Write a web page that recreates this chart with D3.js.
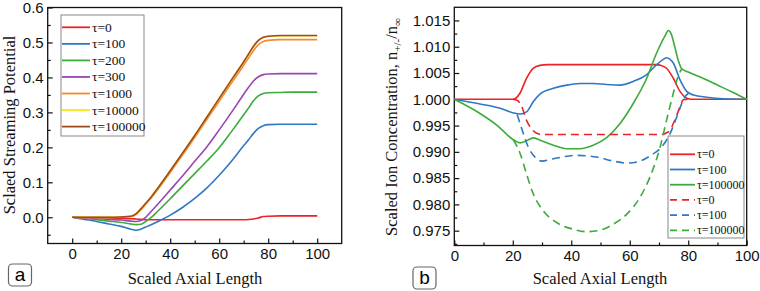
<!DOCTYPE html>
<html>
<head>
<meta charset="utf-8">
<script src="https://cdn.jsdelivr.net/npm/d3@7"></script>
<style>
  body { margin: 0; background: #fff; }
  .tick text { font-family: "Liberation Sans", Arial, sans-serif; font-size: 15px; fill: #111; }
  .tick line { stroke: #111; stroke-width: 1.2; }
  .title { font-family: "Liberation Serif", "Times New Roman", serif; font-size: 16.5px; fill: #111; }
  .legend text { font-family: "Liberation Serif", "Times New Roman", serif; fill: #111; }
</style>
</head>
<body>
<div id="chart"></div>
<script>
// ---- Panel a: scaled streaming potential ----
const xA = [0, 5, 10, 15, 20, 24, 26, 28, 30, 32, 35, 40, 45, 50, 55, 60, 65, 70, 72, 74, 76, 78, 80, 85, 90, 100]
const tau0A      = [0, -0.001, -0.001, -0.002, -0.003, -0.004, -0.005, -0.006, -0.007, -0.007, -0.007, -0.007, -0.007, -0.007, -0.007, -0.007, -0.007, -0.007, -0.0065, -0.005, -0.002, 0.002, 0.003, 0.004, 0.004, 0.004]
const tau100A    = [0, -0.006, -0.012, -0.019, -0.026, -0.034, -0.037, -0.034, -0.028, -0.022, -0.012, 0.006, 0.028, 0.054, 0.084, 0.12, 0.16, 0.205, 0.222, 0.24, 0.254, 0.262, 0.265, 0.266, 0.266, 0.266]
const tau200A    = [0, -0.003, -0.007, -0.011, -0.015, -0.019, -0.021, -0.02, -0.012, -0.002, 0.018, 0.053, 0.089, 0.125, 0.161, 0.199, 0.245, 0.293, 0.313, 0.333, 0.347, 0.354, 0.356, 0.357, 0.358, 0.358]
const tau300A    = [0, -0.002, -0.004, -0.006, -0.008, -0.011, -0.012, -0.009, 0, 0.015, 0.038, 0.078, 0.118, 0.16, 0.202, 0.25, 0.3, 0.352, 0.372, 0.39, 0.402, 0.408, 0.41, 0.411, 0.411, 0.411]
const tau1000A   = [0, -0.001, -0.001, -0.001, 0, 0.002, 0.008, 0.021, 0.037, 0.053, 0.08, 0.128, 0.178, 0.228, 0.28, 0.332, 0.384, 0.435, 0.456, 0.477, 0.494, 0.503, 0.506, 0.508, 0.508, 0.508]
const tau10000A  = [0, 0, 0, 0, 0.001, 0.003, 0.01, 0.024, 0.04, 0.056, 0.084, 0.133, 0.183, 0.234, 0.287, 0.339, 0.392, 0.444, 0.466, 0.488, 0.505, 0.514, 0.517, 0.519, 0.519, 0.519]
const tau100000A = [0, 0, 0, 0, 0.001, 0.003, 0.01, 0.024, 0.04, 0.056, 0.084, 0.133, 0.183, 0.234, 0.287, 0.34, 0.393, 0.445, 0.467, 0.489, 0.506, 0.515, 0.518, 0.52, 0.52, 0.52]
const labelsA = ['τ=0', 'τ=100', 'τ=200', 'τ=300', 'τ=1000', 'τ=10000', 'τ=100000']
const colorsA = ['#ec2227', '#2f78c4', '#3bab3c', '#9a45b3', '#f7892a', '#f6e51a', '#9e4a1f']

// ---- Panel b: scaled ion concentration [x, y] ----
const cation0 = [[0, 1], [18, 1], [20, 1], [21, 1.0002], [22.5, 1.0012], [24.7, 1.004], [27, 1.0059], [29.3, 1.00645], [32, 1.0066], [50, 1.0066], [69, 1.0066], [70.4, 1.0065], [72.6, 1.0059], [74.9, 1.004], [77.2, 1.0015], [79.5, 1.0002], [81, 1], [100, 1]]
const cation100 = [[0, 1], [8.8, 0.9991], [15.6, 0.9983], [20.2, 0.9974], [22.5, 0.9972], [24.7, 0.9976], [27, 0.99955], [29.3, 1.001], [33.9, 1.0021], [38.4, 1.0027], [43, 1.003], [47.5, 1.003], [52.1, 1.0028], [56.7, 1.0027], [61.2, 1.0034], [65.8, 1.0047], [69.2, 1.0066], [71.5, 1.0076], [72.6, 1.0079], [73.8, 1.0076], [74.9, 1.0069], [77.2, 1.0037], [79.5, 1.0015], [81.8, 1.0008], [86.3, 1.0004], [92, 1.0001], [100, 1]]
const cation100000 = [[0, 1], [8.8, 0.9973], [14.5, 0.9951], [20.2, 0.9923], [22.5, 0.9917], [24.7, 0.9921], [27, 0.99265], [29.3, 0.9922], [33.9, 0.99125], [38.4, 0.9906], [43, 0.9906], [47.5, 0.99125], [52.1, 0.9927], [56.7, 0.9954], [61.2, 0.9992], [65.8, 1.004], [69.2, 1.0088], [72.1, 1.0121], [73.2, 1.0131], [74.2, 1.0124], [75.4, 1.01], [76.6, 1.0074], [77.8, 1.0058], [80, 1.0052], [85, 1.004], [90, 1.0027], [95, 1.0014], [100, 1]]
const anion0 = [[20, 1], [21.5, 0.9998], [23, 0.9987], [24.7, 0.996], [26.4, 0.9944], [28, 0.9936], [30.4, 0.9933], [50, 0.9933], [71, 0.9933], [72.5, 0.9936], [73.8, 0.9941], [74.9, 0.9954], [76.1, 0.997], [77.2, 0.9986], [78.3, 0.9999], [80, 1]]
const anion100 = [[21.5, 0.9971], [23.6, 0.9935], [25.3, 0.9909], [27.6, 0.989], [29.9, 0.98824], [33.9, 0.98869], [41.8, 0.98933], [48.7, 0.98901], [54.4, 0.98824], [59, 0.98786], [63.5, 0.98824], [68.1, 0.98965], [70.4, 0.9906], [73.8, 0.99348], [76.1, 0.99668], [77.8, 0.99923], [78.9, 1.0005], [80, 1.0011]]
const anion100000 = [[20.2, 0.9923], [22.5, 0.9897], [24.7, 0.9858], [27, 0.982], [30.4, 0.9788], [35, 0.97655], [40.7, 0.97527], [45.3, 0.9748], [49.8, 0.97508], [54.4, 0.97623], [59, 0.97815], [63.5, 0.98134], [66.9, 0.98518], [70.4, 0.99093], [72.6, 0.99604], [74.9, 1.00115], [76.6, 1.0045], [77.8, 1.0058]]
const labelsB = ['τ=0', 'τ=100', 'τ=100000', 'τ=0', 'τ=100', 'τ=100000']
const colorsB = ['#ec2227', '#2f78c4', '#3bab3c']

const xTicks = [0, 20, 40, 60, 80, 100]
const xMinor = [10, 30, 50, 70, 90]

function draw() {
  const svg = d3.select('#chart')
    .append('svg')
    .attr('width', 760)
    .attr('height', 291)

  // draws the closed frame, inward major/minor ticks
  function frame(g, x, y, yMajor, yMinor, yFmt) {
    const [x0, x1] = x.range()
    const [y0, y1] = y.range()

    g.append('g')
      .attr('transform', `translate(0,${y0})`)
      .call(d3.axisBottom(x).tickValues(xTicks).tickSize(-5).tickPadding(5).tickFormat(d3.format('d')))
      .call(a => a.select('.domain').remove())
    g.append('g')
      .attr('transform', `translate(0,${y0})`)
      .call(d3.axisBottom(x).tickValues(xMinor).tickSize(-3).tickFormat(''))
      .call(a => a.select('.domain').remove())
    g.append('g')
      .attr('transform', `translate(${x0},0)`)
      .call(d3.axisLeft(y).tickValues(yMajor).tickSize(-5).tickPadding(4).tickFormat(d3.format(yFmt)))
      .call(a => a.select('.domain').remove())
    g.append('g')
      .attr('transform', `translate(${x0},0)`)
      .call(d3.axisLeft(y).tickValues(yMinor).tickSize(-3).tickFormat(''))
      .call(a => a.select('.domain').remove())

    g.append('rect')
      .attr('x', x0).attr('y', y1)
      .attr('width', x1 - x0).attr('height', y0 - y1)
      .attr('fill', 'none').attr('stroke', '#111').attr('stroke-width', 1.3)
  }

  function tag(g, x, y, letter) {
    g.append('rect')
      .attr('x', x).attr('y', y).attr('width', 23).attr('height', 22)
      .attr('rx', 4).attr('fill', '#fff').attr('stroke', '#666').attr('stroke-width', 1.2)
    g.append('text')
      .attr('x', x + 11.5).attr('y', y + 17)
      .attr('text-anchor', 'middle')
      .style('font-family', '"Liberation Sans", Arial, sans-serif')
      .style('font-size', '19px')
      .text(letter)
  }

  // ---------------- Panel a ----------------
  const ga = svg.append('g')
  const xa = d3.scaleLinear().domain([-10, 110]).range([47.7, 341.7])
  const ya = d3.scaleLinear().domain([-0.075, 0.6]).range([243.5, 7.5])

  frame(ga, xa, ya, d3.range(0, 0.61, 0.1), d3.range(-0.05, 0.56, 0.1), '.1f')

  const seriesA = [tau0A, tau100A, tau200A, tau300A, tau1000A, tau10000A, tau100000A]
  const lineA = d3.line()
    .x((d, i) => xa(xA[i]))
    .y(d => ya(d))
    .curve(d3.curveMonotoneX)

  ga.selectAll('.series')
    .data(seriesA)
    .join('path')
    .attr('d', lineA)
    .attr('fill', 'none')
    .attr('stroke', (d, i) => colorsA[i])
    .attr('stroke-width', 1.6)

  const legA = ga.append('g').classed('legend', true)
  legA.append('rect')
    .attr('x', 61).attr('y', 15).attr('width', 83).attr('height', 121)
    .attr('fill', '#fff').attr('stroke', '#888').attr('stroke-width', 1)
  labelsA.forEach((lab, i) => {
    const yy = 27.3 + i * 16.55
    legA.append('line')
      .attr('x1', 62).attr('x2', 90).attr('y1', yy).attr('y2', yy)
      .attr('stroke', colorsA[i]).attr('stroke-width', 1.8)
    legA.append('text')
      .attr('x', 92).attr('y', yy + 4.5)
      .style('font-size', '13.5px')
      .text(lab)
  })

  ga.append('text').classed('title', true)
    .attr('transform', 'translate(15,125) rotate(-90)')
    .attr('text-anchor', 'middle')
    .text('Sclaed Streaming Potential')
  ga.append('text').classed('title', true)
    .attr('x', 195).attr('y', 284)
    .attr('text-anchor', 'middle')
    .text('Scaled Axial Length')

  tag(ga, 8.5, 264, 'a')

  // ---------------- Panel b ----------------
  const gb = svg.append('g')
  const xb = d3.scaleLinear().domain([0, 100]).range([454.3, 746.7])
  const yb = d3.scaleLinear().domain([0.97218, 1.0175]).range([245.5, 7.3])

  frame(gb, xb, yb, d3.range(0.975, 1.0151, 0.005), d3.range(0.9725, 1.0151, 0.005), '.3f')

  const lineB = d3.line()
    .x(d => xb(d[0]))
    .y(d => yb(d[1]))
    .curve(d3.curveMonotoneX)

  const seriesB = [
    { pts: cation0, c: 0, dash: null },
    { pts: cation100, c: 1, dash: null },
    { pts: cation100000, c: 2, dash: null },
    { pts: anion0, c: 0, dash: '8,5' },
    { pts: anion100, c: 1, dash: '8,5' },
    { pts: anion100000, c: 2, dash: '8,5' }
  ]

  gb.selectAll('.series')
    .data(seriesB)
    .join('path')
    .attr('d', d => lineB(d.pts))
    .attr('fill', 'none')
    .attr('stroke', d => colorsB[d.c])
    .attr('stroke-width', 1.6)
    .attr('stroke-dasharray', d => d.dash)

  const legB = gb.append('g').classed('legend', true)
  legB.append('rect')
    .attr('x', 668).attr('y', 136).attr('width', 76).attr('height', 102)
    .attr('fill', '#fff').attr('stroke', '#888').attr('stroke-width', 1)
  labelsB.forEach((lab, i) => {
    const yy = 154.3 + i * 15.2
    legB.append('line')
      .attr('x1', 670).attr('x2', 695).attr('y1', yy).attr('y2', yy)
      .attr('stroke', colorsB[i % 3]).attr('stroke-width', 1.8)
      .attr('stroke-dasharray', i > 2 ? '7,5' : null)
    legB.append('text')
      .attr('x', 697).attr('y', yy + 4)
      .style('font-size', '12px')
      .text(lab)
  })

  const yLab = gb.append('text').classed('title', true)
    .attr('transform', 'translate(397,127) rotate(-90)')
    .attr('text-anchor', 'middle')
  yLab.append('tspan').text('Scaled Ion Concentration, n')
  yLab.append('tspan').attr('dy', 4).style('font-size', '11px').text('+/-')
  yLab.append('tspan').attr('dy', -4).text('/n')
  yLab.append('tspan').attr('dy', 4).style('font-size', '11px').text('∞')

  gb.append('text').classed('title', true)
    .attr('x', 600).attr('y', 284)
    .attr('text-anchor', 'middle')
    .text('Scaled Axial Length')

  tag(gb, 413, 267, 'b')
}

draw()
</script>
</body>
</html>
